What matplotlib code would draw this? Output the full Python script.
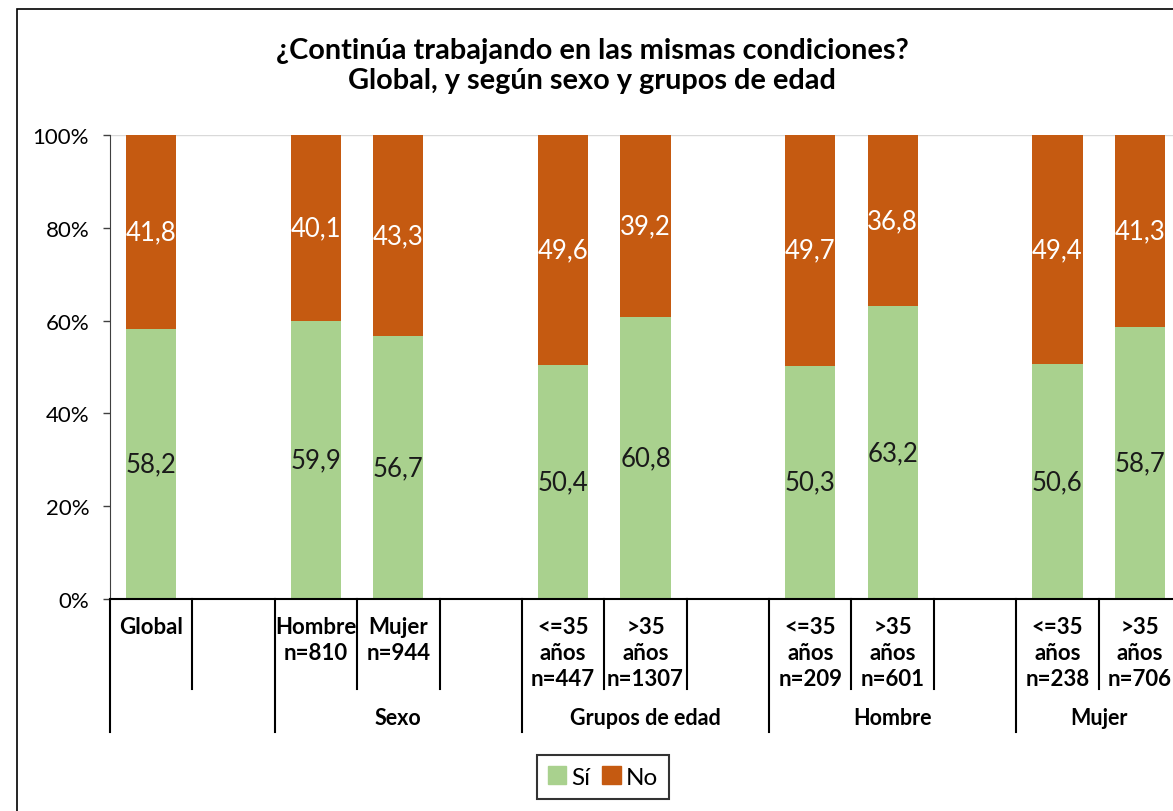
import numpy as np
import matplotlib.pyplot as plt
import matplotlib.transforms as mtransforms
from matplotlib.patches import Rectangle, Patch

plt.rcParams['font.family'] = ['Lato', 'DejaVu Sans']

# ── data ──────────────────────────────────────────────────────────────────────
categories = ['Global', '', 'Hombre\nn=810', 'Mujer\nn=944', '',
              '<=35\naños\nn=447', '>35\naños\nn=1307', '',
              '<=35\naños\nn=209', '>35\naños\nn=601', '',
              '<=35\naños\nn=238', '>35\naños\nn=706']
si = [58.2, np.nan, 59.9, 56.7, np.nan, 50.4, 60.8, np.nan, 50.3, 63.2, np.nan, 50.6, 58.7]
no = [41.8, np.nan, 40.1, 43.3, np.nan, 49.6, 39.2, np.nan, 49.7, 36.8, np.nan, 49.4, 41.3]
group_names = ['', 'Sexo', 'Grupos de edad', 'Hombre', 'Mujer']
group_starts = [0, 2, 5, 8, 11]
group_ends = [2, 5, 8, 11, 13]

GREEN = '#A9D18E'
ORANGE = '#C55A11'

W, H = 1173, 812
fig = plt.figure(figsize=(W / 100, H / 100), dpi=100)
ax = fig.add_axes([110 / W, (H - 600) / H, (1181 - 110) / W, 464 / H])

x = np.arange(len(categories))
si_arr = np.array(si)
no_arr = np.array(no)
ax.bar(x, si_arr, width=0.61, color=GREEN, zorder=2)
ax.bar(x, no_arr, width=0.61, bottom=si_arr, color=ORANGE, zorder=2)

fmt = lambda v: f"{v:.1f}".replace('.', ',')
for xi, s, n in zip(x, si, no):
    if np.isnan(s):
        continue
    ax.text(xi, s / 2, fmt(s), ha='center', va='center', fontsize=18.5, color='#1a1a1a')
    ax.text(xi, s + n / 2, fmt(n), ha='center', va='center', fontsize=18.5, color='white')

ax.set_xlim(-0.5, len(categories) - 0.5)
ax.set_ylim(0, 100)
ax.axhline(100, color='#D9D9D9', lw=1, zorder=1)
ax.set_yticks([0, 20, 40, 60, 80, 100])
ax.set_yticklabels([f'{v}%' for v in range(0, 101, 20)], fontsize=16)
ax.tick_params(axis='y', length=5, width=1, pad=10, color='#404040')
ax.set_xticks([])
for s in ['top', 'right']:
    ax.spines[s].set_visible(False)
ax.spines['left'].set_color('#404040')
ax.spines['bottom'].set_color('black')
ax.spines['bottom'].set_linewidth(1.5)

# ── multi-level category axis ────────────────────────────────────────────────
trans = mtransforms.blended_transform_factory(ax.transData, ax.transAxes)
y_short = (600 - 690) / 464
y_long = (600 - 733) / 464
boundaries = np.arange(len(categories) + 1) - 0.5
group_edges = [b - 0.5 for b in group_starts]
for b in boundaries[:-1]:
    y_end = y_long if b in group_edges else y_short
    ax.plot([b, b], [0, y_end], transform=trans, color='black', lw=1.5, clip_on=False)

for xi, lab in zip(x, categories):
    ax.text(xi, (600 - 617) / 464, lab, transform=trans, ha='center', va='top',
            fontsize=16, fontweight='bold', linespacing=1.3, multialignment='center')

for name, a, b in zip(group_names, group_starts, group_ends):
    ax.text((a + b - 1) / 2, (600 - 719) / 464, name, transform=trans, ha='center',
            va='center', fontsize=15.5, fontweight='bold')

# ── title, legend, frame ─────────────────────────────────────────────────────
fig.text(592 / W, 1 - 66 / H, '¿Continúa trabajando en las mismas condiciones?\nGlobal, y según sexo y grupos de edad',
         ha='center', va='center', fontsize=20.8, fontweight='bold', linespacing=1.2)

handles = [Patch(color=GREEN, label='Sí'), Patch(color=ORANGE, label='No')]
leg = fig.legend(handles=handles, loc='center', bbox_to_anchor=(603 / W, 1 - 778 / H),
                 ncol=2, fontsize=17.5, frameon=True, fancybox=False, edgecolor='black',
                 handlelength=0.75, handleheight=0.75, handletextpad=0.2,
                 columnspacing=0.5, borderpad=0.45, borderaxespad=0)
leg.get_frame().set_linewidth(1.5)

fig.patches.append(Rectangle((17 / W, -0.1), 1.2, 1 - 10 / H + 0.1, transform=fig.transFigure,
                             fill=False, edgecolor='black', lw=1.2))

fig.savefig('out.png', dpi=100)
